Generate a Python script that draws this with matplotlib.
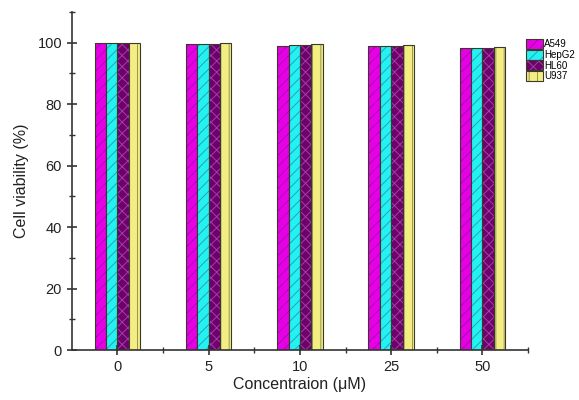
import numpy as np
import matplotlib.pyplot as plt
from matplotlib.patches import Patch

plt.rcParams['font.family'] = ['Liberation Sans', 'DejaVu Sans']
plt.rcParams['hatch.linewidth'] = 0.7

# Data
concentrations = ['0', '5', '10', '25', '50']
a549 = [100.0, 99.5, 99.0, 98.8, 98.2]
hepg2 = [100.0, 99.6, 99.3, 98.9, 98.3]
hl60 = [100.0, 99.7, 99.4, 98.9, 98.4]
u937 = [100.0, 99.8, 99.6, 99.1, 98.7]

# name, values, fill, hatch colour, hatch
series = [('A549', a549, '#e600e6', '#b000b0', '///'),
          ('HepG2', hepg2, '#22f2f2', '#30a0b0', '///'),
          ('HL60', hl60, '#6e006e', '#a040a0', 'xxx'),
          ('U937', u937, '#f2ee84', '#9a9450', '||')]

fig = plt.figure(figsize=(5.79, 4.0), dpi=100)
ax = fig.add_axes([0.124, 0.125, 0.788, 0.845])

x = np.arange(len(concentrations))
w = 0.125
for i, (name, vals, color, hcol, hatch) in enumerate(series):
    pos = x + (i - 1.5) * w
    ax.bar(pos, vals, w, color=color, edgecolor=hcol, hatch=hatch, linewidth=0)
    ax.bar(pos, vals, w, fill=False, edgecolor='#3a3a2a', linewidth=0.8)

# legend handles: hatched fill + dark outline
handles = [Patch(facecolor=c, edgecolor=hc, hatch=h, linewidth=0) for _, _, c, hc, h in series]
outlines = [Patch(fill=False, edgecolor='#3a3a2a', linewidth=0.8) for _ in series]
labels = [s[0] for s in series]

ax.set_xlim(-0.5, 4.5)
ax.set_ylim(0, 110)
ax.set_xticks(x)
ax.set_xticklabels(concentrations)
ax.set_xticks(x + 0.5, minor=True)
ax.set_yticks(np.arange(0, 101, 20))
ax.set_yticks(np.arange(10, 111, 20), minor=True)

for s in ['top', 'right']:
    ax.spines[s].set_visible(False)
for s in ['left', 'bottom']:
    ax.spines[s].set_linewidth(1.2)
    ax.spines[s].set_color('#333333')

ax.tick_params(which='major', direction='inout', length=7, width=1.2,
               labelsize=10.5, colors='#333333', labelcolor='#222222')
ax.tick_params(which='minor', direction='inout', length=4, width=1.0, colors='#333333')

ax.set_xlabel('Concentraion (μM)', fontsize=11.5, color='#222222', labelpad=2)
ax.set_ylabel('Cell viability (%)', fontsize=11.5, color='#222222', labelpad=6)

ax.legend(list(zip(handles, outlines)), labels, loc='upper left',
          bbox_to_anchor=(0.9, 0.915), bbox_transform=fig.transFigure,
          frameon=False, fontsize=7, handlelength=1.8, handleheight=1.2,
          handletextpad=0.1, labelspacing=0.05, borderpad=0)

fig.savefig('out.png', dpi=100)
